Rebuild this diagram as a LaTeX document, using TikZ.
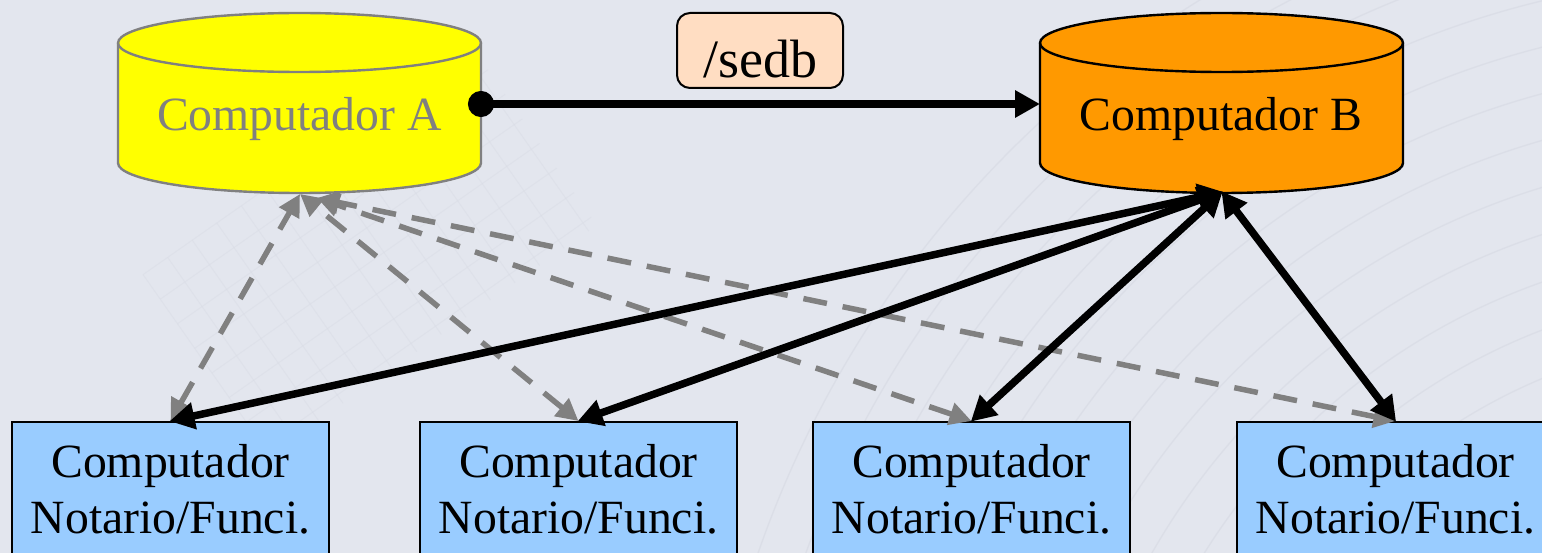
\documentclass[tikz,border=0pt]{standalone}
\usepackage{fontspec}
\setmainfont{Liberation Serif}
\usetikzlibrary{arrows.meta}
\definecolor{bgc}{HTML}{E3E6EE}
\definecolor{bgl}{HTML}{DADDE6}
\definecolor{bgh}{HTML}{DADDE6}
\definecolor{cylA}{HTML}{FFFF00}
\definecolor{cylB}{HTML}{FF9900}
\definecolor{boxc}{HTML}{99CCFF}
\definecolor{lab}{HTML}{FFDDC2}
\definecolor{gr}{HTML}{808080}
\tikzset{
  txt/.style={font=\fontsize{47.7}{56}\selectfont,align=center,inner sep=0pt,anchor=base},
  bluebox/.style={draw=black,line width=2.4pt,fill=boxc,minimum width=317pt,minimum height=152pt,anchor=north,inner sep=0pt},
  boxtext/.style={txt,text=black},
  cylbody/.style={line width=2.4pt,line join=round},
  solidarrow/.style={draw=black,line width=7.5pt,{Triangle[length=25pt,width=26pt]}-{Triangle[length=25pt,width=26pt]},shorten <=-1pt,shorten >=-1pt},
  dasharrow/.style={draw=gr,line width=5.5pt,dash pattern=on 24pt off 16pt,{Triangle[length=22pt,width=22pt]}-{Triangle[length=22pt,width=22pt]}},
  bgline/.style={draw=bgl,line width=1.4pt,opacity=.8},
  meshline/.style={draw=bgh,line width=1pt,opacity=.55},
}
\newcommand{\cylpath}[3]{% x-left, fill, draw
  \path[cylbody,fill=#2,draw=#3] (#1,43) arc[x radius=181.5,y radius=30,start angle=180,end angle=360]
    -- (#1+363,163) arc[x radius=181.5,y radius=30,start angle=0,end angle=180] -- cycle;
  \path[cylbody,draw=#3] (#1,43) arc[x radius=181.5,y radius=29,start angle=180,end angle=0];
}
\begin{document}
\begin{tikzpicture}[x=1pt,y=-1pt]
\useasboundingbox (0,0) rectangle (1542,553);
\clip (0,0) rectangle (1542,553);
\fill[bgc] (0,0) rectangle (1542,553);
% faint background texture
\foreach \r in {520,565,...,1100}{
  \draw[bgline] (1760,900) circle[radius=\r];
}
\begin{scope}[shift={(370,250)},rotate=35]
  \foreach \a in {-200,-170,...,200}{
    \draw[meshline] (\a,-110) -- (\a,110);
  }
  \foreach \b in {-110,-80,...,110}{
    \draw[meshline] (-200,\b) -- (200,\b);
  }
\end{scope}
% cylinders
\cylpath{118}{cylA}{gr}
\cylpath{1040}{cylB}{black}
\node[txt,text=gr] (compA) at (299.5,130.5) {Computador A};
\node[txt,text=black] (compB) at (1221,130.5) {Computador B};
\coordinate (aright) at (481,104);
\coordinate (bleft) at (1040,104);
\coordinate (abot) at (300,194);
\coordinate (abot2) at (317,198);
\coordinate (bbot) at (1222,192);
% label
\node[draw=black,line width=2pt,fill=lab,rounded corners=13pt,minimum width=166pt,minimum height=75pt,inner sep=0pt] (sedb) at (760,50.5) {};
\node[txt,font=\fontsize{54}{60}\selectfont] (sedbtext) at (760,78) {/sedb};
% boxes
\node[bluebox] (n1) at (170.5,421) {};
\node[bluebox] (n2) at (578.5,421) {};
\node[bluebox] (n3) at (971.5,421) {};
\node[bluebox] (n4) at (1395.5,421) {};
\foreach \n/\x in {n1/170.5,n2/578.5,n3/971.5,n4/1395.5}{
  \node[boxtext] (\n a) at (\x,477) {Computador};
  \node[boxtext] (\n b) at (\x,533.5) {Notario/Funci.};
}
% gray dashed
\draw[dasharrow] (n1.north) -- (abot);
\draw[dasharrow] (n2.north) -- (abot);
\draw[dasharrow] (n3.north) -- (abot2);
\draw[dasharrow] (n4.north) -- (abot2);
% black
\draw[solidarrow] (n1.north) -- (bbot);
\draw[solidarrow] (n2.north) -- (bbot);
\draw[solidarrow] (n3.north) -- (bbot);
\draw[solidarrow] (n4.north) -- (bbot);
\draw[draw=black,line width=7.5pt,shorten <=-13pt,{Circle[length=26pt,width=26pt]}-{Triangle[length=25pt,width=26pt]}] (aright) -- (bleft);
\end{tikzpicture}
\end{document}
